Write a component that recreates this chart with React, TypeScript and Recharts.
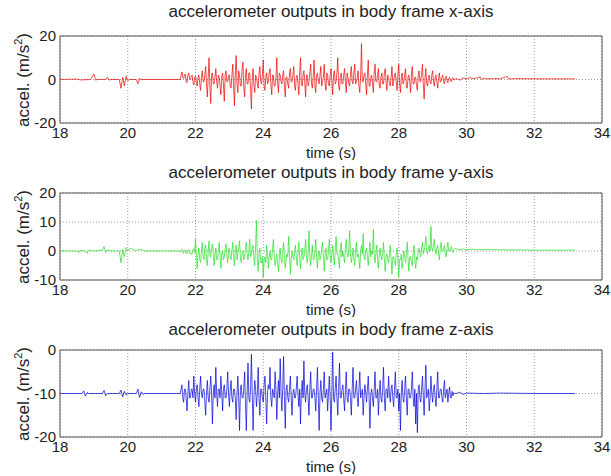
import React from "react";
import {
  LineChart,
  Line,
  XAxis,
  YAxis,
  CartesianGrid,
  ReferenceArea
} from "recharts";

// sampling of the busy part (seconds)
const ACTIVE_START = 21.55;
const STEP = 0.025;

const TIME_TICKS = [18, 20, 22, 24, 26, 28, 30, 32, 34];

// x-axis accel
const xPre = [
  [18.0, 0], [18.5, 0.2], [18.6, -0.2], [18.9, 0], [19.0, 2.5], [19.05, -0.3],
  [19.1, 0], [19.35, 0], [19.4, 1], [19.45, -0.3], [19.5, 0], [19.75, 0],
  [19.8, -4], [19.85, 1], [19.9, -3], [19.95, 1.5], [20.0, -0.5], [20.05, 0],
  [20.25, 0], [20.3, -2], [20.35, 0.5], [20.4, 0], [21.5, 0]
];
const xActive = [
  0, 2, 3.5, 1, 0.5, 2, 2.5, -1, -1.5, 2, 3, 0.5, 0, 1.5, 2, -1, -2.5, 1, 1.5, -1,
  -3, 1, 2, -2, -5, 1, 4, -1, -1, 2, 6, -2, -8, 1, 10, -3, -11, 2, 3, -2,
  -2, 1, 5, -1, -4, 2, 1, -3, -7, 1, 3, -2, -10, 2, 4, -1, -1, 2, 2, -3,
  -4, 2, 7, -3, -12, 3, 11, -2, -6, 4, 2, -3, -3, 5, 8, -4, -8, 2, 5, -2,
  -2, 3, 3, -4, -13.5, 1, 5, -3, -6, 2, 1, -2, -4, 3, 6, -1, -2, 2, 9, -3,
  -5, 1, 3, -2, -1, 3, 5, -2, -7, 2, 2, -3, -3, 1, 10, -2, -6, 3, 2, -1,
  -2, 2, 4, -3, -8, 1, 1, -2, -4, 3, 5, -1, -1, 2, 6, -3, -5, 1, 2, -2,
  -7, 3, 10, -2, -3, 2, 4, -1, -8, 2, 2, -3, -1, 3, 7, -2, -4, 1, 9, -3,
  -6, 2, 3, -1, -2, 2, 6, -3, -1, 1, 7, -2, -5, 3, 2, -2, -3, 2, 5, -1,
  -7, 2, 4, -2, -1, 3, 10, -3, -5, 1, 3, -2, -2, 2, 5, -1, -6, 3, 1, -2,
  -3, 2, 6, -1, -2, 3, 7, -2, -1, 1, 4, -3, -6, 2, 16.5, -1, -1, 2, 3, -2,
  -7, 2, 9, -3, -3, 1, 2, -2, -6, 3, 7, -1, -1, 2, 5, -3, -4, 1, 3, -2,
  -2, 3, 5, -1, -5, 2, 1, -2, -3, 1, 6, -3, -1, 2, 3, -1, -5, 2, 7, -2,
  -6, 1, 3, -2, -1, 2, 5, -3, -4, 1, 2, -1, -6, 2, 6, -2, -2, 1, 1, -3,
  -5, 2, 4, -1, -1, 3, 7, -2, -9, 1, 5, -2, -3, 1, 2, -1, -2, 2, 4, -1,
  -3, 1, 2, -1, -4, 1, 3, -1, -1, 1, 2, -1, -2, 0.5, 1.5, -0.5, -1.5, 0.5, 1, -0.5,
  -1, 0.5, 0.8, -0.3, 0
];
const xPost = [
  [29.7, 0.5], [29.8, -0.3], [29.9, 0.8], [30.0, 0.2], [30.1, 0.9], [30.2, 0.3],
  [30.3, 0.7], [30.4, 1.2], [30.45, 0], [30.5, 0.6], [30.6, 0.3], [30.8, 0.4],
  [31.0, 0.3], [31.2, 1.5], [31.25, 0.2], [31.4, 0.4], [32.0, 0.3], [33.2, 0.3]
];

// y-axis accel
const yPre = [
  [18.0, 0], [18.5, 0], [18.55, -0.6], [18.6, 0.2], [18.75, 0], [18.8, -0.8],
  [18.85, 0.3], [19.0, 0], [19.25, 0.3], [19.3, 1.5], [19.35, -0.5], [19.4, 0.4],
  [19.5, 0], [19.75, 0], [19.8, -4], [19.85, 0.5], [19.9, -2], [19.95, 1.2],
  [20.0, 0.3], [20.1, 1], [20.2, 0.2], [20.4, 0.5], [20.5, 0], [21.5, 0]
];
const yActive = [
  -0.3, 0.2, 0.5, -0.4, -0.8, 0.1, 0.3, -0.6, -1, 0.2, 0.5, -0.8, -0.5, -1.2, -1, 0.3, 0.8, -0.5, 4, -2,
  -6, -1, 1, -3, -4, 0, 3, -2, -3, 1, 2, -3, -5, 0, 3.5, -2, -2, 1, 2.5, -1,
  -5, -1, 1, -3, -3, 0, 3, -2, -6, -1, 0, -3, -2, 1, 2.5, -1, -4, 0, 1, -2,
  -3, 0, 3, -2, -5, 0, 2, -3, -1, 1, 3.5, -2, -4, -1, 0, -3, -2, 1, 3, -1,
  -3, 0, 4, -2, -1, 1, 2, -3, -5, 2, 10.5, -3, -7, -1, 1, -4, -4, -2, -9, -3,
  -2, -4, 2, -1, -6, -2, 0, -3, -3, 1, 4, -2, -5, -3, -1, -4, -7, -2, 1, -3,
  -4, -1, 3, -2, -6, -3, -1, -2, 5, -1, -8, -3, 0, -2, -3, -1, 2, -2, -5, -1,
  3, -2, -6, -1, 1, -3, -2, 0, 4, -2, -4, -1, 7, -2, -5, -1, 2, -3, -3, 0,
  4, -2, -6, -1, 0, -3, -2, 1, 3, -2, -7, -1, 1, -3, -3, 0, 4, -2, -4, -1,
  2, -2, -5, 0, 5, -1, -1, -3, -6, 0, 3, -2, 0, -2, -4, 1, 4, -1, -2, 0,
  7, -1, -4, -2, 1, -3, -5, 0, 3, -2, -1, -3, -6, 0, 2, -1, 6, -2, -3, 0,
  1, -2, -5, -1, 3, -2, 0, -1, 7.5, -2, -4, -1, 2, -3, -6, -1, 1, -2, -3, -1,
  3, -3, -7, -2, -1, -3, -4, -1, 2, -3, -8, -2, -2, -4, -5, -1, 1, -3, -9, -3,
  -3, -1, -6, -3, 0, -2, -4, -1, 3, -3, -7, -2, -2, -4, -5, -1, 2, -3, -6, -2,
  -3, 0, 1, -1, -2, 1, 3, -1, 0, 2, 5, 0, -1, 1, 2, 0, 8.5, 1, 0, 2,
  4, 0, -1, 1, 2, -1, -3, 1, 3, 0, 0, 1, 2, -1, -2, 1, 3, 0, 0, 1,
  1.5, 0, -0.5, 0.6, 0.8
];
const yPost = [
  [29.7, 0.8], [29.8, 0.4], [29.9, 0.7], [30.0, 0.5], [30.2, 0.6], [30.4, 0.4],
  [30.6, 0.5], [31.0, 0.4], [31.5, 0.4], [32.0, 0.3], [33.2, 0.3]
];

// z-axis accel
const zPre = [
  [18.0, -10], [18.65, -10], [18.7, -9.4], [18.75, -10.6], [18.8, -9.8], [18.85, -10],
  [19.25, -10], [19.3, -9.3], [19.35, -10.5], [19.4, -10], [19.75, -10], [19.8, -9.2],
  [19.85, -10.8], [19.9, -9.5], [19.95, -10.3], [20.0, -10], [20.25, -10], [20.3, -9],
  [20.35, -10.9], [20.4, -9.6], [20.45, -10.2], [20.5, -10], [21.5, -10]
];
const zActive = [
  -10, -9, -8, -11, -12, -9, -9, -11, -14, -10, -7, -11, -11, -9, -9, -11, -6, -10, -12, -9,
  -8, -11, -13, -9, -6, -10, -11, -9, -9, -12, -15, -10, -7, -11, -12, -9, -6, -10, -17, -10,
  -8, -11, -4, -10, -13, -9, -9, -11, -6, -10, -14, -9, -8, -11, -11, -9, -5, -10, -13, -9,
  -7, -11, -12, -9, -9, -11, -16, -10, -6, -11, -18.5, -9, -8, -11, -11, -9, -5, -12, -18.5, -10,
  -3, -11, -12, -9, -1, -10, -18.5, -11, -7, -9, -13, -10, -4, -11, -15, -9, -9, -11, -12, -8,
  -6, -11, -17, -10, -8, -9, -4, -11, -13, -9, -10, -11, -5, -9, -16, -10, -7, -11, -2, -10,
  -14, -9, -1.5, -11, -18, -9, -8, -11, -12, -9, -6, -11, -15, -10, -9, -11, -11, -9, -6, -10,
  -13, -9, -17, -10, -7, -11, -2.5, -10, -12, -9, -8, -11, -15, -9, -5, -11, -11, -9, -9, -11,
  -14, -9, -4, -11, -18.5, -10, -7, -11, -12, -9, -5, -11, -10, -9, -14, -10, -6, -11, -18.5, -10,
  -0.5, -11, -12, -9, -6, -11, -15, -9, -3, -11, -11, -9, -8, -11, -14, -9, -5, -11, -12, -9,
  -9, -11, -15, -9, -4, -11, -11, -9, -7, -11, -13, -9, -5, -11, -10, -9, -15, -11, -8, -10,
  -12, -9, -6, -11, -18, -10, -9, -11, -13, -9, -5, -11, -11, -9, -15, -10, -7, -11, -12, -9,
  -4, -11, -14, -9, -9, -11, -6, -10, -12, -9, -8, -11, -13, -9, -5, -11, -11, -9, -14, -10,
  -18.5, -10, -7, -11, -12, -9, -6, -11, -15, -9, -9, -11, -11, -9, -5, -11, -13, -9, -17, -10,
  -19, -9, -8, -11, -12, -9, -6, -11, -15, -9, -3.5, -11, -10, -9, -14, -11, -6, -10, -12, -9,
  -8, -11, -13, -9, -5, -11, -11, -9, -9, -11, -12, -9, -7, -11, -10, -9, -12, -10, -8.5, -11,
  -11, -9.5, -10.5, -9.8, -10
];
const zPost = [
  [29.7, -10], [29.8, -9.7], [29.9, -10.2], [30.0, -9.9], [30.5, -10],
  [31.0, -9.9], [32.0, -10], [33.2, -10]
];

const buildSeries = (pre: number[][], active: number[], post: number[][]) => [
  ...pre.map(([t, v]) => ({ t, v })),
  ...active.map((v, i) => ({ t: +(ACTIVE_START + i * STEP).toFixed(3), v })),
  ...post.map(([t, v]) => ({ t, v }))
];

const FONT = "'Liberation Sans', Arial, Helvetica, sans-serif";
const TEXT = "#222";

type PlotProps = {
  title: string;
  titleTop: number;
  data: { t: number; v: number }[];
  color: string;
  domain: [number, number];
  ticks: number[];
  top: number;
};

function SubPlot({ title, titleTop, data, color, domain, ticks, top }: PlotProps) {
  return (
    <div style={{ position: "absolute", left: 0, top, width: 611, height: 160 }}>
      <div
        style={{
          position: "absolute",
          left: 60,
          width: 542,
          top: titleTop,
          textAlign: "center",
          fontSize: 17,
          lineHeight: "20px",
          color: TEXT
        }}
      >
        {title}
      </div>
      <div
        style={{
          position: "absolute",
          left: -46,
          top: 69.5,
          width: 140,
          height: 20,
          lineHeight: "20px",
          fontSize: 17,
          textAlign: "center",
          color: TEXT,
          transform: "rotate(-90deg)",
          whiteSpace: "nowrap"
        }}
      >
        accel. (m/s<sup style={{ fontSize: 11, lineHeight: 0 }}>2</sup>)
      </div>
      <LineChart
        width={611}
        height={160}
        data={data}
        margin={{ top: 36, right: 9, bottom: 0, left: 0 }}
      >
        <CartesianGrid stroke="#9a9a9a" strokeDasharray="1 2" />
        <XAxis
          dataKey="t"
          type="number"
          domain={[18, 34]}
          ticks={TIME_TICKS}
          interval={0}
          height={37}
          tickSize={0}
          tickMargin={4}
          axisLine={false}
          tick={{ fontSize: 15, fill: TEXT }}
          label={{ value: "time (s)", position: "insideBottom", offset: 2, fill: TEXT, fontSize: 15 }}
        />
        <YAxis
          type="number"
          domain={domain}
          ticks={ticks}
          interval={0}
          width={60}
          tickSize={0}
          tickMargin={4}
          axisLine={false}
          allowDataOverflow
          tick={{ fontSize: 15, fill: TEXT }}
        />
        <Line
          type="linear"
          dataKey="v"
          stroke={color}
          strokeWidth={0.7}
          dot={false}
          isAnimationActive={false}
        />
        <ReferenceArea
          x1={18}
          x2={34}
          y1={domain[0]}
          y2={domain[1]}
          fill="none"
          stroke="#555"
          strokeWidth={1}
        />
      </LineChart>
    </div>
  );
}

export default function App() {
  return (
    <div
      style={{
        position: "absolute",
        left: 0,
        top: 0,
        width: 611,
        height: 476,
        background: "#fff",
        fontFamily: FONT
      }}
    >
      <SubPlot
        title="accelerometer outputs in body frame x-axis"
        titleTop={2}
        data={buildSeries(xPre, xActive, xPost)}
        color="#ee0000"
        domain={[-20, 20]}
        ticks={[-20, 0, 20]}
        top={0}
      />
      <SubPlot
        title="accelerometer outputs in body frame y-axis"
        titleTop={6}
        data={buildSeries(yPre, yActive, yPost)}
        color="#22e022"
        domain={[-10, 20]}
        ticks={[-10, 0, 10, 20]}
        top={157}
      />
      <SubPlot
        title="accelerometer outputs in body frame z-axis"
        titleTop={6}
        data={buildSeries(zPre, zActive, zPost)}
        color="#0000d8"
        domain={[-20, 0]}
        ticks={[-20, -10, 0]}
        top={314}
      />
    </div>
  );
}
